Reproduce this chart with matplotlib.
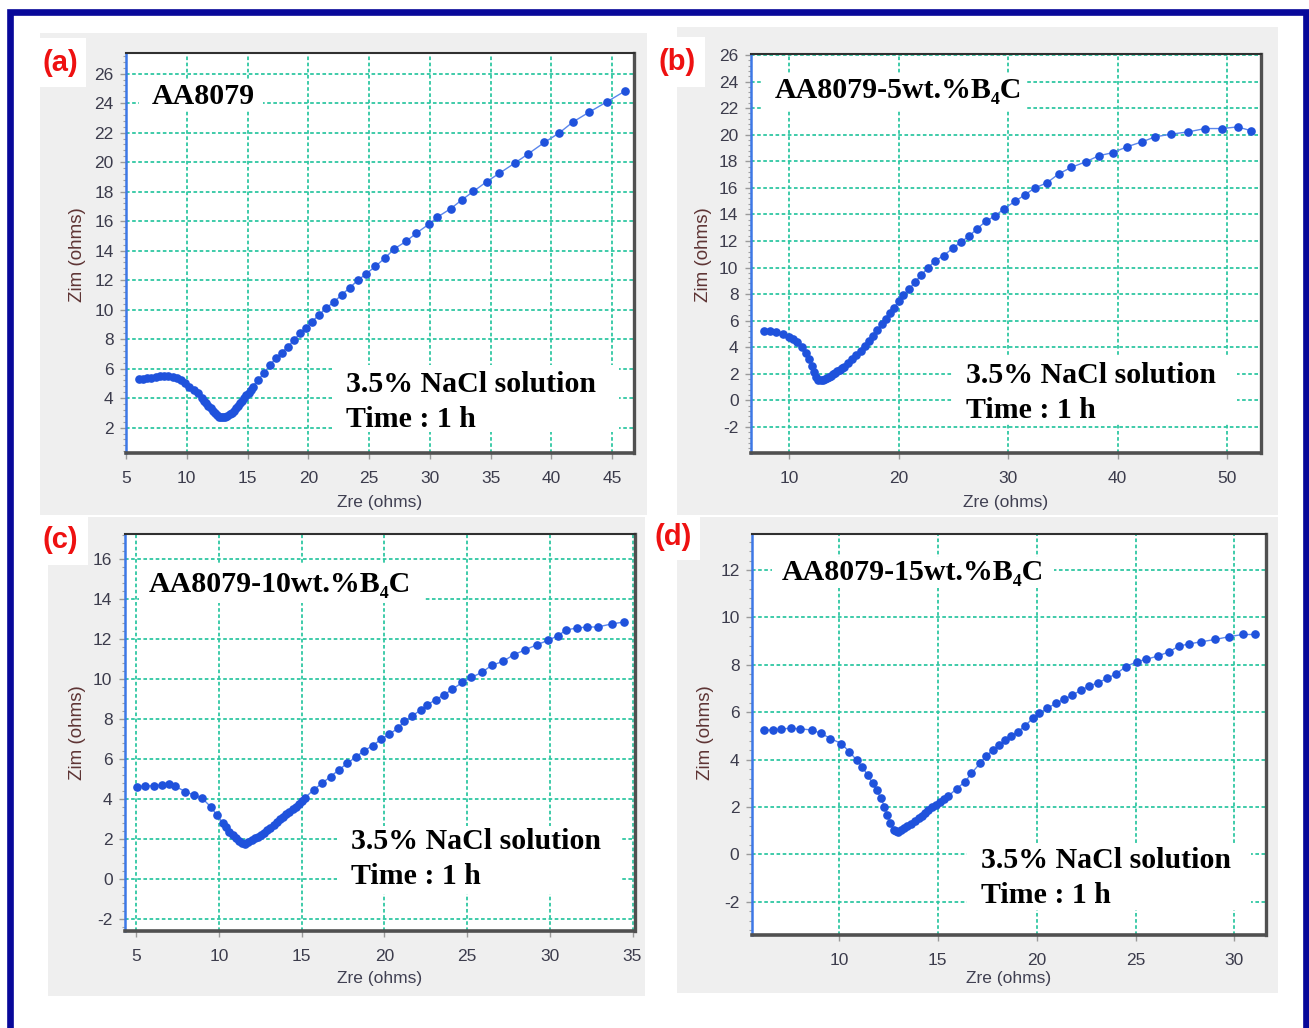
import matplotlib
matplotlib.use("Agg")
import matplotlib.pyplot as plt
from matplotlib.patches import Rectangle
from matplotlib.ticker import AutoMinorLocator

plt.rcParams["axes.unicode_minus"] = False

# ---------------- data ----------------
a_zre = [6.04, 6.39, 6.74, 7.09, 7.43, 7.78, 8.13, 8.48, 8.83, 9.17, 9.52, 9.87,
         10.22, 10.57, 10.91, 11.26, 11.44, 11.61, 11.78, 11.96, 12.13, 12.3, 12.47,
         12.65, 12.82, 13.0, 13.17, 13.35, 13.52, 13.7, 13.87, 14.04, 14.21, 14.39,
         14.56, 14.74, 14.91, 15.09, 15.26, 15.43, 15.85, 16.37, 16.83, 17.35, 17.8,
         18.32, 18.84, 19.33, 19.78, 20.3, 20.9, 21.45, 22.15, 22.74, 23.43, 24.06,
         24.76, 25.52, 26.29, 27.09, 28.03, 28.9, 29.97, 30.63, 31.71, 32.65, 33.59,
         34.67, 35.71, 37.0, 38.11, 39.43, 40.65, 41.77, 43.09, 44.55, 46.04]
a_zim = [5.30, 5.33, 5.35, 5.39, 5.46, 5.51, 5.53, 5.51, 5.46, 5.35, 5.24, 5.05,
         4.78, 4.56, 4.33, 3.99, 3.82, 3.65, 3.48, 3.31, 3.14, 2.97, 2.85,
         2.75, 2.71, 2.70, 2.73, 2.79, 2.90, 3.02, 3.16, 3.31, 3.48, 3.65,
         3.82, 3.99, 4.18, 4.38, 4.58, 4.78, 5.24, 5.69, 6.25, 6.71, 7.09,
         7.50, 7.95, 8.40, 8.74, 9.19, 9.65, 10.10, 10.55, 11.00, 11.50, 11.98,
         12.43, 12.93, 13.49, 14.13, 14.62, 15.19, 15.82, 16.28, 16.84, 17.45, 18.02,
         18.67, 19.24, 19.94, 20.57, 21.34, 21.98, 22.72, 23.38, 24.08, 24.81]

b_zre = [7.69, 8.27, 8.85, 9.42, 10.0, 10.38, 10.77, 11.15, 11.54, 11.85, 12.12,
         12.31, 12.5, 12.69, 12.88, 13.08, 13.27, 13.46, 13.65, 13.85, 14.04, 14.23,
         14.42, 14.62, 14.81, 15.0, 15.38, 15.77, 16.15, 16.54, 16.92, 17.31, 17.69,
         18.08, 18.46, 18.85, 19.23, 19.62, 20.0, 20.38, 20.96, 21.5, 22.08, 22.69,
         23.31, 24.12, 25.0, 25.69, 26.42, 27.15, 27.96, 28.85, 29.62, 30.62, 31.54,
         32.42, 33.58, 34.62, 35.77, 37.12, 38.27, 39.54, 40.88, 42.23, 43.46, 44.92,
         46.46, 48.0, 49.5, 50.96, 52.23]
b_zim = [5.24, 5.24, 5.16, 4.99, 4.74, 4.61, 4.36, 3.99, 3.56, 3.12, 2.62,
         2.17, 1.74, 1.54, 1.53, 1.57, 1.62, 1.69, 1.78, 1.87, 1.97, 2.07,
         2.18, 2.29, 2.41, 2.54, 2.82, 3.12, 3.42, 3.74, 4.11, 4.49, 4.86,
         5.31, 5.74, 6.11, 6.61, 6.98, 7.48, 7.91, 8.36, 8.90, 9.43, 9.98,
         10.48, 10.90, 11.48, 11.92, 12.35, 12.90, 13.47, 13.90, 14.42, 14.97, 15.47,
         15.97, 16.39, 17.04, 17.54, 17.96, 18.41, 18.64, 19.09, 19.46, 19.84, 20.04,
         20.21, 20.46, 20.46, 20.58, 20.29]

c_zre = [5.05, 5.56, 6.07, 6.58, 6.96, 7.34, 7.97, 8.48, 8.99, 9.5, 9.88, 10.26,
         10.45, 10.64, 10.83, 11.03, 11.22, 11.41, 11.6, 11.79, 11.98, 12.17, 12.36,
         12.55, 12.74, 12.93, 13.12, 13.31, 13.5, 13.7, 13.89, 14.08, 14.27, 14.46,
         14.65, 14.84, 15.03, 15.22, 15.73, 16.24, 16.75, 17.26, 17.76, 18.27, 18.78,
         19.29, 19.8, 20.31, 20.82, 21.2, 21.7, 22.21, 22.59, 23.1, 23.61, 24.12,
         24.71, 25.26, 25.9, 26.48, 27.17, 27.81, 28.52, 29.21, 29.89, 30.48, 30.99,
         31.62, 32.26, 32.89, 33.78, 34.49]
c_zim = [4.62, 4.65, 4.67, 4.71, 4.76, 4.65, 4.37, 4.20, 4.04, 3.62, 3.20, 2.79,
         2.58, 2.37, 2.20, 2.04, 1.90, 1.79, 1.76, 1.87, 1.95, 2.04, 2.12,
         2.20, 2.32, 2.45, 2.57, 2.70, 2.85, 2.99, 3.12, 3.25, 3.37, 3.49,
         3.62, 3.75, 3.90, 4.07, 4.46, 4.79, 5.12, 5.46, 5.79, 6.09, 6.42,
         6.66, 6.99, 7.24, 7.54, 7.88, 8.16, 8.46, 8.71, 8.96, 9.21, 9.49,
         9.83, 10.08, 10.33, 10.68, 10.88, 11.21, 11.46, 11.71, 11.93, 12.16, 12.45,
         12.55, 12.60, 12.60, 12.76, 12.85]

d_zre = [6.21, 6.64, 7.09, 7.55, 8.04, 8.62, 9.09, 9.57, 10.11, 10.53, 10.89, 11.17,
         11.45, 11.7, 11.91, 12.13, 12.3, 12.45, 12.6, 12.77, 12.88, 12.98, 13.14,
         13.3, 13.46, 13.62, 13.83, 14.04, 14.2, 14.36, 14.52, 14.68, 14.9, 15.11,
         15.32, 15.53, 15.96, 16.38, 16.7, 17.13, 17.45, 17.77, 18.09, 18.4, 18.72,
         19.04, 19.4, 19.79, 20.11, 20.53, 20.96, 21.38, 21.81, 22.23, 22.66, 23.09,
         23.57, 24.0, 24.51, 25.06, 25.53, 26.13, 26.7, 27.19, 27.7, 28.3, 29.04,
         29.74, 30.43, 31.06]
d_zim = [5.25, 5.25, 5.30, 5.32, 5.30, 5.25, 5.11, 4.89, 4.68, 4.33, 3.98, 3.70,
         3.35, 3.00, 2.71, 2.36, 2.01, 1.66, 1.31, 1.02, 0.97, 0.95, 1.02,
         1.10, 1.18, 1.28, 1.40, 1.52, 1.62, 1.73, 1.86, 2.01, 2.10, 2.22,
         2.34, 2.46, 2.78, 3.07, 3.42, 3.84, 4.15, 4.40, 4.61, 4.82, 4.99,
         5.18, 5.41, 5.74, 5.95, 6.16, 6.37, 6.55, 6.72, 6.93, 7.10, 7.24,
         7.43, 7.61, 7.92, 8.13, 8.23, 8.37, 8.55, 8.79, 8.88, 8.97, 9.07,
         9.19, 9.28, 9.28]

a_xticks = [5, 10, 15, 20, 25, 30, 35, 40, 45]
a_yticks = [2, 4, 6, 8, 10, 12, 14, 16, 18, 20, 22, 24, 26]
b_xticks = [10, 20, 30, 40, 50]
b_yticks = [-2, 0, 2, 4, 6, 8, 10, 12, 14, 16, 18, 20, 22, 24, 26]
c_xticks = [5, 10, 15, 20, 25, 30, 35]
c_yticks = [-2, 0, 2, 4, 6, 8, 10, 12, 14, 16]
d_xticks = [10, 15, 20, 25, 30]
d_yticks = [-2, 0, 2, 4, 6, 8, 10, 12]

panel_labels = ["(a)", "(b)", "(c)", "(d)"]
sample_names = ["AA8079", "AA8079-5wt.%B\u2084C", "AA8079-10wt.%B\u2084C", "AA8079-15wt.%B\u2084C"]
condition_text = "3.5% NaCl solution\nTime : 1 h"
x_title = "Zre (ohms)"
y_title = "Zim (ohms)"

# ---------------- layout ----------------
W, H = 1309, 1028
fig = plt.figure(figsize=(W / 100, H / 100), dpi=100)
fig.patch.set_facecolor("white")


def fx(px):
    return px / W


def fy(py):
    return 1 - py / H


def rect(x0, y0, x1, y1, fc="none", z=1, ec="none", lw=0.0, fill=True):
    r = Rectangle((fx(x0), fy(y1)), (x1 - x0) / W, (y1 - y0) / H,
                  transform=fig.transFigure, facecolor=fc, edgecolor=ec,
                  linewidth=lw, zorder=z, fill=fill, clip_on=False)
    fig.add_artist(r)


panels = [
    dict(ax=(126, 53, 634, 453), xlim=(5.0, 46.8), ylim=(0.28, 27.4),
         gray=(40, 33, 647, 515), lab=(60, 63), labbox=(36, 38, 86, 87),
         name=(203, 96), namebox=(139, 80, 263, 110),
         cond=(346, 402), condbox=(332, 365, 619, 432),
         ylab=(78, 255), xlab=(380, 502)),
    dict(ax=(751, 54, 1261, 453), xlim=(6.53, 53.1), ylim=(-3.96, 26.07),
         gray=(677, 27, 1278, 515), lab=(677, 62), labbox=(650, 37, 705, 87),
         name=(898, 90), namebox=(761, 73, 1027, 110),
         cond=(966, 393), condbox=(953, 357, 1237, 424),
         ylab=(703, 255), xlab=(1006, 502)),
    dict(ax=(125, 534, 635, 931), xlim=(4.33, 35.15), ylim=(-2.6, 17.25),
         gray=(48, 517, 645, 996), lab=(60, 540), labbox=(36, 515, 88, 565),
         name=(280, 584), namebox=(139, 565, 425, 603),
         cond=(351, 859), condbox=(337, 826, 621, 894),
         ylab=(78, 733), xlab=(380, 978)),
    dict(ax=(752, 534, 1266, 935), xlim=(5.6, 31.6), ylim=(-3.4, 13.52),
         gray=(677, 517, 1278, 993), lab=(673, 537), labbox=(650, 515, 700, 560),
         name=(913, 572), namebox=(772, 557, 1054, 588),
         cond=(981, 878), condbox=(967, 843, 1251, 910),
         ylab=(705, 733), xlab=(1009, 978)),
]
series = [(a_zre, a_zim, a_xticks, a_yticks),
          (b_zre, b_zim, b_xticks, b_yticks),
          (c_zre, c_zim, c_xticks, c_yticks),
          (d_zre, d_zim, d_xticks, d_yticks)]

tick_color = "#3c3c4c"
for i, p in enumerate(panels):
    zre, zim, xt, yt = series[i]
    g = p["gray"]
    rect(*g, fc="#efefef", z=-5)
    x0, y0, x1, y1 = p["ax"]
    ax = fig.add_axes([fx(x0), fy(y1), (x1 - x0) / W, (y1 - y0) / H])
    ax.set_facecolor("white")
    ax.plot(zre, zim, color="#5a86ec", lw=1.0, zorder=3)
    ax.plot(zre, zim, ls="none", marker="o", ms=5.2, color="#1f52dc",
            mec="#1f52dc", zorder=4)
    ax.set_xlim(*p["xlim"])
    ax.set_ylim(*p["ylim"])
    ax.set_xticks(xt)
    ax.set_yticks(yt)
    ax.yaxis.set_minor_locator(AutoMinorLocator(5))
    ax.grid(True, which="major", color="#2fc7a2", linestyle=(0, (2.0, 1.4)),
            linewidth=1.3, zorder=1)
    ax.set_axisbelow(True)
    ax.tick_params(axis="x", which="major", length=4, width=1, color="#9a9a9a",
                   pad=9, labelsize=12.5, labelcolor=tick_color)
    ax.tick_params(axis="y", which="major", length=4, width=1, color="#9a9a9a",
                   pad=5, labelsize=12.5, labelcolor=tick_color)
    ax.tick_params(axis="y", which="minor", length=2.5, width=0.8, color="#a0a0a0")
    for lbl in ax.get_xticklabels() + ax.get_yticklabels():
        lbl.set_family("Liberation Sans")
    ax.spines["left"].set_color("#3d78e6")
    ax.spines["left"].set_linewidth(1.8)
    ax.spines["bottom"].set_color("#505050")
    ax.spines["bottom"].set_linewidth(2.6)
    ax.spines["right"].set_color("#505050")
    ax.spines["right"].set_linewidth(2.4)
    ax.spines["top"].set_color("#303030")
    ax.spines["top"].set_linewidth(1.5)

    # panel letter
    rect(*p["labbox"], fc="white", z=2)
    fig.text(fx(p["lab"][0]), fy(p["lab"][1]), panel_labels[i], ha="center",
             va="center", fontsize=21, fontweight="bold", color="#ee1111",
             family="Liberation Sans", zorder=5)
    # sample name
    rect(*p["namebox"], fc="white", z=2)
    fig.text(fx(p["name"][0]), fy(p["name"][1]), sample_names[i], ha="center",
             va="center", fontsize=21.5, fontweight="bold", color="black",
             family=["Liberation Serif", "DejaVu Serif"], zorder=5)
    # condition
    rect(*p["condbox"], fc="white", z=2)
    fig.text(fx(p["cond"][0]), fy(p["cond"][1]), condition_text, ha="left",
             va="center", fontsize=21.5, fontweight="bold", color="black",
             family="Liberation Serif", linespacing=1.34, zorder=5)
    # axis titles
    fig.text(fx(p["ylab"][0]), fy(p["ylab"][1]), y_title, rotation=90,
             ha="center", va="center", fontsize=13.5, color="#5e3434",
             family="Liberation Sans", zorder=5)
    fig.text(fx(p["xlab"][0]), fy(p["xlab"][1]), x_title, ha="center",
             va="center", fontsize=12.5, color="#404052",
             family="Liberation Sans", zorder=5)

# outer dark-blue frame (bottom edge runs off the image)
rect(10, 11.5, 1306, 1050, fc="none", z=10, ec="#08089a", lw=4.8, fill=False)

fig.savefig("out.png", dpi=100, facecolor="white")
